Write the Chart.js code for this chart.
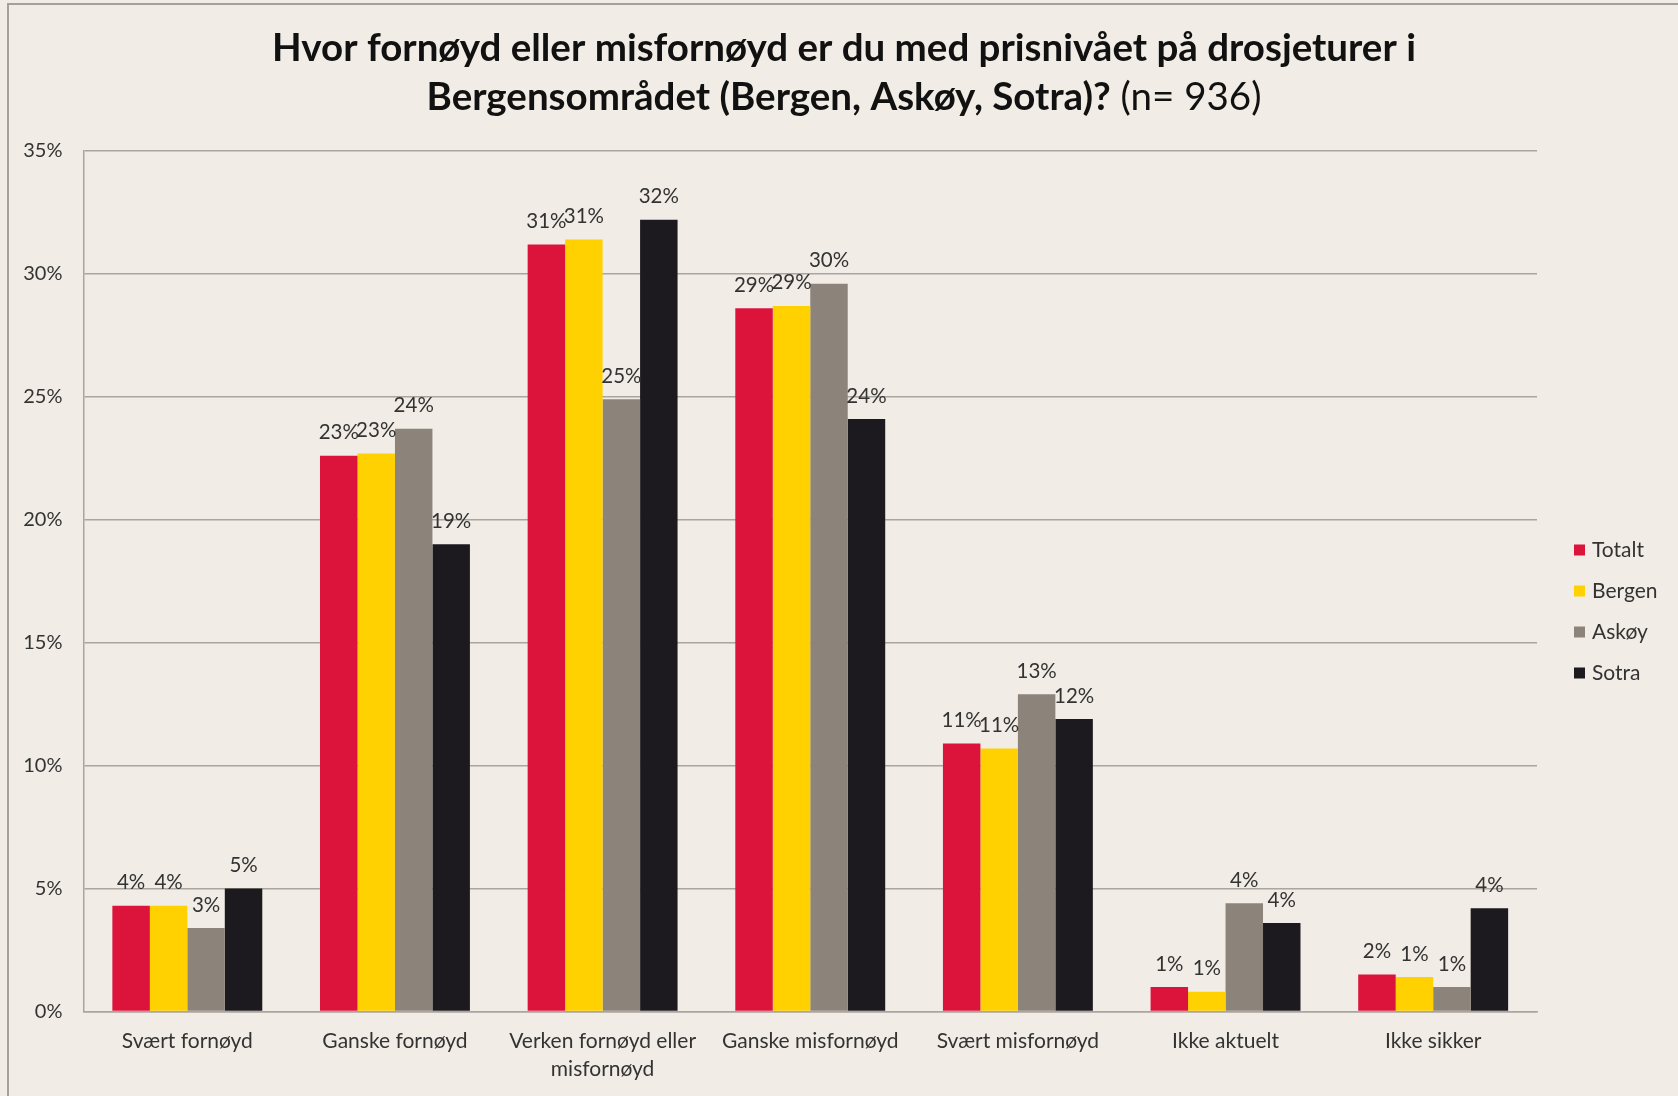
<!DOCTYPE html>
<html>
<head>
<meta charset="utf-8">
<script src="https://cdn.jsdelivr.net/npm/chart.js@4.4.0/dist/chart.umd.min.js"></script>
<style>
  html, body { margin: 0; padding: 0; background: #f1ede6; }
</style>
</head>
<body>
<canvas id="myChart" width="1678" height="1096"></canvas>
<script>
const CATEGORIES = ['Svært fornøyd', 'Ganske fornøyd', ['Verken fornøyd eller', 'misfornøyd'], 'Ganske misfornøyd', 'Svært misfornøyd', 'Ikke aktuelt', 'Ikke sikker'];
const SERIES = ['Totalt', 'Bergen', 'Askøy', 'Sotra'];
const TOTALT = [4.3, 22.6, 31.2, 28.6, 10.9, 1.0, 1.5];
const BERGEN = [4.3, 22.7, 31.4, 28.7, 10.7, 0.8, 1.4];
const ASKOY  = [3.4, 23.7, 24.9, 29.6, 12.9, 4.4, 1.0];
const SOTRA  = [5.0, 19.0, 32.2, 24.1, 11.9, 3.6, 4.2];
const Y_TICKS = [0, 5, 10, 15, 20, 25, 30, 35];
const TITLE_1 = 'Hvor fornøyd eller misfornøyd er du med prisnivået på drosjeturer i';
const TITLE_2 = 'Bergensområdet (Bergen, Askøy, Sotra)?';
const TITLE_N = ' (n= 936)';

const COLORS = ['#dc143c', '#ffd100', '#8c837a', '#1c1a1e'];
const FONT = 'Lato, Carlito, "Open Sans", sans-serif';
const TEXT = '#333333';
const GRID = '#aaa59d';

Chart.defaults.font.family = FONT;
Chart.defaults.color = TEXT;

// background, frame, title, legend and value labels
const decor = {
    id: 'decor',
    beforeDraw(chart) {
        const { ctx, width, height } = chart;
        ctx.save();
        ctx.fillStyle = '#f1ede6';
        ctx.fillRect(0, 0, width, height);
        ctx.strokeStyle = '#a3a19d';
        ctx.lineWidth = 2;
        ctx.strokeRect(8, 4, width + 20, height + 20);
        ctx.restore();
    },
    afterDraw(chart) {
        const { ctx } = chart;
        ctx.save();
        ctx.fillStyle = '#111';
        ctx.textBaseline = 'middle';
        ctx.textAlign = 'left';

        const cx = 844;
        ctx.font = `bold 38.5px ${FONT}`;
        let w = ctx.measureText(TITLE_1).width;
        ctx.fillText(TITLE_1, cx - w / 2, 49);

        const w2 = ctx.measureText(TITLE_2).width;
        ctx.font = `38.5px ${FONT}`;
        const w3 = ctx.measureText(TITLE_N).width;
        const x0 = cx - (w2 + w3) / 2;
        ctx.font = `bold 38.5px ${FONT}`;
        ctx.fillText(TITLE_2, x0, 98);
        ctx.font = `38.5px ${FONT}`;
        ctx.fillText(TITLE_N, x0 + w2, 98);

        // legend
        ctx.font = `21px ${FONT}`;
        chart.data.datasets.forEach((ds, i) => {
            const y = 550 + i * 41;
            ctx.fillStyle = ds.backgroundColor;
            ctx.fillRect(1574, y - 5.5, 11, 11);
            ctx.fillStyle = TEXT;
            ctx.fillText(ds.label, 1592, y);
        });

        // value labels
        ctx.font = `20.5px ${FONT}`;
        ctx.textAlign = 'center';
        ctx.fillStyle = TEXT;
        chart.data.datasets.forEach((ds, i) => {
            chart.getDatasetMeta(i).data.forEach((bar, j) => {
                ctx.fillText(Math.round(ds.data[j]) + '%', bar.x, bar.y - 23);
            });
        });
        ctx.restore();
    }
};

new Chart(document.getElementById('myChart'), {
    type: 'bar',
    data: {
        labels: CATEGORIES,
        datasets: [TOTALT, BERGEN, ASKOY, SOTRA].map((d, i) => ({
            label: SERIES[i],
            data: d,
            backgroundColor: COLORS[i],
            barPercentage: 1,
            categoryPercentage: 0.722,
        }))
    },
    options: {
        responsive: false,
        animation: false,
        layout: { padding: { top: 151, right: 141, bottom: 0, left: 0 } },
        plugins: {
            legend: { display: false },
            tooltip: { enabled: false },
        },
        scales: {
            x: {
                grid: { display: false, drawTicks: false },
                border: { display: true, color: GRID, width: 1.5 },
                ticks: { padding: 16, font: { size: 21, lineHeight: 1.33 }, color: TEXT, maxRotation: 0, autoSkip: false },
                afterFit(scale) { scale.height = 84.5; },
            },
            y: {
                min: 0,
                max: 35,
                afterBuildTicks(scale) { scale.ticks = Y_TICKS.map(v => ({ value: v })); },
                grid: { color: GRID, lineWidth: 1.5, drawTicks: false },
                border: { display: true, color: GRID, width: 1.5 },
                ticks: { padding: 21, font: { size: 20 }, color: TEXT, callback: v => v + '%' },
                afterFit(scale) { scale.width = 83.5; },
            }
        }
    },
    plugins: [decor]
});
</script>
</body>
</html>
